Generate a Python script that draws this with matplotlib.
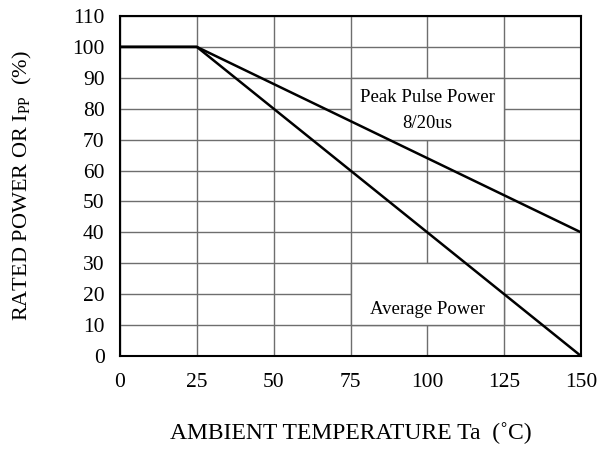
import matplotlib
matplotlib.use("Agg")
import matplotlib.pyplot as plt
from matplotlib.patches import Rectangle

# derating curves (temperature in degC, rated power in %)
temp = [0, 25, 150]
peak_pulse = [100, 100, 40]
average = [100, 100, 0]

x_ticks = [0, 25, 50, 75, 100, 125, 150]
y_ticks = list(range(0, 111, 10))

plt.rcParams["font.family"] = ["Liberation Serif", "DejaVu Serif"]
plt.rcParams["mathtext.fontset"] = "custom"
plt.rcParams["mathtext.rm"] = "Liberation Serif"

fig = plt.figure(figsize=(6.16, 4.53), dpi=100)
ax = fig.add_axes([0.1948, 0.2141, 0.7484, 0.7506])

ax.set_xlim(0, 150)
ax.set_ylim(0, 110)
ax.set_xticks(x_ticks)
ax.set_yticks(y_ticks)
ax.tick_params(length=0, labelsize=15.5)
ax.tick_params(axis="x", pad=12)
ax.tick_params(axis="y", pad=11)
ax.grid(True, color="#6e6e6e", linewidth=1.0, zorder=1)
ax.set_axisbelow(True)
for s in ax.spines.values():
    s.set_linewidth(1.5)
    s.set_color("black")
    s.set_zorder(5)

# white label boxes that blank out the grid inside
for (x0, y0) in [(75, 70), (75, 10)]:
    ax.add_patch(Rectangle((x0, y0), 50, 20, facecolor="white",
                           edgecolor="#6e6e6e", linewidth=1.0, zorder=2))

ax.plot(temp, peak_pulse, color="black", linewidth=1.8, zorder=4)
ax.plot(temp, average, color="black", linewidth=1.8, zorder=4)

ax.text(100, 83.5, "Peak Pulse Power", ha="center", va="center", fontsize=13.5, zorder=3)
ax.text(100, 75.3, "8/20us", ha="center", va="center", fontsize=13.5, zorder=3)
ax.text(100, 15, "Average Power", ha="center", va="center", fontsize=13.5, zorder=3)

ax.set_xlabel("AMBIENT TEMPERATURE Ta  (\u02daC)", fontsize=17)
ax.set_ylabel(r"RATED POWER OR I$_{\mathrm{PP}}$  (%)", fontsize=16)
ax.xaxis.set_label_coords(0.5, -0.226)
ax.yaxis.set_label_coords(-0.2126, 0.5)
ax.xaxis.label.set_va("center")
ax.yaxis.label.set_va("center")

fig.savefig("out.png", dpi=100)
